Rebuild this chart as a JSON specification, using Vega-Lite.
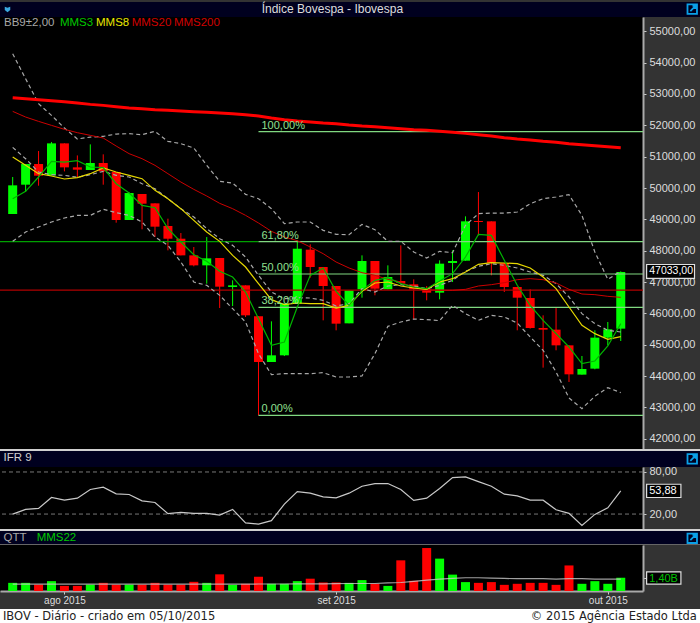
{
  "$schema": "https://vega.github.io/schema/vega-lite/v6.json",
  "background": "#333333",
  "padding": 0,
  "spacing": 0,
  "bounds": "flush",
  "datasets": {
    "sessions": [
      {"i":0,"open":49171,"high":50351,"low":49171,"close":50085,"bbUp":54284,"bbMid":51297,"bbLow":48299,"mms3":49660,"mms8":50989,"mms20":52445,"mms200":52881,"ifr":20.0,"vol":0.86,"mms22":0.72},
      {"i":1,"open":50106,"high":50765,"low":49872,"close":50765,"bbUp":53487,"bbMid":50935,"bbLow":48597,"mms3":49894,"mms8":50723,"mms20":52264,"mms200":52849,"ifr":26.6,"vol":0.86,"mms22":0.72},
      {"i":2,"open":50765,"high":51180,"low":50074,"close":50393,"bbUp":52689,"bbMid":50510,"bbLow":48756,"mms3":50351,"mms8":50457,"mms20":52126,"mms200":52817,"ifr":28.0,"vol":0.68,"mms22":0.72},
      {"i":3,"open":50404,"high":51467,"low":50404,"close":51424,"bbUp":52317,"bbMid":50425,"bbLow":48916,"mms3":50850,"mms8":50383,"mms20":51998,"mms200":52785,"ifr":43.6,"vol":1.04,"mms22":0.72},
      {"i":4,"open":51424,"high":51424,"low":50531,"close":50659,"bbUp":51913,"bbMid":50404,"bbLow":49043,"mms3":50829,"mms8":50287,"mms20":51871,"mms200":52753,"ifr":39.8,"vol":0.54,"mms22":0.72},
      {"i":5,"open":50659,"high":51040,"low":50351,"close":50585,"bbUp":51563,"bbMid":50340,"bbLow":49128,"mms3":50872,"mms8":50330,"mms20":51765,"mms200":52711,"ifr":42.7,"vol":0.54,"mms22":0.72},
      {"i":6,"open":50574,"high":51392,"low":50574,"close":50797,"bbUp":51626,"bbMid":50425,"bbLow":49128,"mms3":50670,"mms8":50457,"mms20":51680,"mms200":52668,"ifr":55.0,"vol":0.68,"mms22":0.72},
      {"i":7,"open":50797,"high":51074,"low":50106,"close":50531,"bbUp":51648,"bbMid":50531,"bbLow":49320,"mms3":50648,"mms8":50638,"mms20":51595,"mms200":52636,"ifr":58.3,"vol":0.86,"mms22":0.72},
      {"i":8,"open":50510,"high":50510,"low":48894,"close":48980,"bbUp":51722,"bbMid":50404,"bbLow":49213,"mms3":50138,"mms8":50510,"mms20":51339,"mms200":52594,"ifr":48.8,"vol":0.68,"mms22":0.72},
      {"i":9,"open":48980,"high":49860,"low":48980,"close":49840,"bbUp":51733,"bbMid":50351,"bbLow":49128,"mms3":49840,"mms8":50404,"mms20":51095,"mms200":52551,"ifr":47.9,"vol":0.68,"mms22":0.72},
      {"i":10,"open":49809,"high":49809,"low":48682,"close":49500,"bbUp":51701,"bbMid":50138,"bbLow":48916,"mms3":49447,"mms8":50298,"mms20":50935,"mms200":52530,"ifr":38.9,"vol":0.68,"mms22":0.72},
      {"i":11,"open":49511,"high":49511,"low":48437,"close":48767,"bbUp":51807,"bbMid":49979,"bbLow":48437,"mms3":49372,"mms8":49926,"mms20":50723,"mms200":52498,"ifr":36.5,"vol":0.86,"mms22":0.72},
      {"i":12,"open":48788,"high":49022,"low":48011,"close":48383,"bbUp":51488,"bbMid":49660,"bbLow":48171,"mms3":48703,"mms8":49660,"mms20":50457,"mms200":52477,"ifr":20.5,"vol":0.68,"mms22":0.72},
      {"i":13,"open":48383,"high":48564,"low":47852,"close":47852,"bbUp":51414,"bbMid":49341,"bbLow":47639,"mms3":48277,"mms8":49341,"mms20":50191,"mms200":52456,"ifr":22.4,"vol":0.68,"mms22":0.72},
      {"i":14,"open":47852,"high":48118,"low":47501,"close":47533,"bbUp":51276,"bbMid":49075,"bbLow":47001,"mms3":47873,"mms8":48969,"mms20":49957,"mms200":52434,"ifr":21.0,"vol":0.97,"mms22":0.72},
      {"i":15,"open":47533,"high":48436,"low":46948,"close":47756,"bbUp":50723,"bbMid":48703,"bbLow":46895,"mms3":47661,"mms8":48596,"mms20":49745,"mms200":52413,"ifr":21.0,"vol":0.86,"mms22":0.72},
      {"i":16,"open":47767,"high":47767,"low":46172,"close":46853,"bbUp":50213,"bbMid":48384,"bbLow":46576,"mms3":47342,"mms8":48298,"mms20":49511,"mms200":52392,"ifr":18.6,"vol":1.76,"mms22":0.72},
      {"i":17,"open":46842,"high":47055,"low":46236,"close":46895,"bbUp":50159,"bbMid":48171,"bbLow":46151,"mms3":47161,"mms8":47852,"mms20":49341,"mms200":52370,"ifr":26.6,"vol":0.65,"mms22":0.72},
      {"i":18,"open":46895,"high":46895,"low":45885,"close":45939,"bbUp":49798,"bbMid":47799,"bbLow":45726,"mms3":46683,"mms8":47480,"mms20":49128,"mms200":52339,"ifr":7.3,"vol":0.76,"mms22":0.72},
      {"i":19,"open":45907,"high":45907,"low":42750,"close":44450,"bbUp":49660,"bbMid":47214,"bbLow":44716,"mms3":45832,"mms8":46948,"mms20":48884,"mms200":52296,"ifr":5.8,"vol":1.51,"mms22":0.74},
      {"i":20,"open":44450,"high":45747,"low":44450,"close":44663,"bbUp":49341,"bbMid":46683,"bbLow":44046,"mms3":44982,"mms8":46438,"mms20":48618,"mms200":52232,"ifr":10.6,"vol":0.76,"mms22":0.74},
      {"i":21,"open":44663,"high":46310,"low":44640,"close":46310,"bbUp":48863,"bbMid":46470,"bbLow":44078,"mms3":45088,"mms8":46279,"mms20":48437,"mms200":52179,"ifr":34.2,"vol":0.76,"mms22":0.74},
      {"i":22,"open":46310,"high":48330,"low":46310,"close":48064,"bbUp":48916,"bbMid":46502,"bbLow":44078,"mms3":46204,"mms8":46332,"mms20":48320,"mms200":52137,"ifr":52.1,"vol":1.04,"mms22":0.76},
      {"i":23,"open":48033,"high":48203,"low":47140,"close":47480,"bbUp":48916,"bbMid":46491,"bbLow":44078,"mms3":47214,"mms8":46310,"mms20":48118,"mms200":52105,"ifr":49.8,"vol":1.30,"mms22":0.76},
      {"i":24,"open":47480,"high":47480,"low":45779,"close":46874,"bbUp":48650,"bbMid":46417,"bbLow":44110,"mms3":47448,"mms8":46310,"mms20":47905,"mms200":52073,"ifr":44.6,"vol":0.90,"mms22":0.76},
      {"i":25,"open":46874,"high":46874,"low":45460,"close":45673,"bbUp":48522,"bbMid":46236,"bbLow":43972,"mms3":46704,"mms8":46172,"mms20":47639,"mms200":52052,"ifr":43.2,"vol":0.90,"mms22":0.77},
      {"i":26,"open":45684,"high":46736,"low":45684,"close":46736,"bbUp":48511,"bbMid":46310,"bbLow":43972,"mms3":46258,"mms8":46258,"mms20":47449,"mms200":52009,"ifr":49.8,"vol":0.86,"mms22":0.79},
      {"i":27,"open":46768,"high":47852,"low":46502,"close":47672,"bbUp":48841,"bbMid":46789,"bbLow":44004,"mms3":46736,"mms8":46704,"mms20":47300,"mms200":51977,"ifr":59.7,"vol":1.15,"mms22":0.79},
      {"i":28,"open":47672,"high":47672,"low":46577,"close":46789,"bbUp":48671,"bbMid":46683,"bbLow":44716,"mms3":47055,"mms8":46970,"mms20":47215,"mms200":51956,"ifr":63.5,"vol":0.76,"mms22":0.79},
      {"i":29,"open":46768,"high":47533,"low":46768,"close":47161,"bbUp":48299,"bbMid":46874,"bbLow":45588,"mms3":47140,"mms8":47002,"mms20":47087,"mms200":51924,"ifr":63.5,"vol":0.54,"mms22":0.86},
      {"i":30,"open":47034,"high":48171,"low":46970,"close":46970,"bbUp":48299,"bbMid":46917,"bbLow":45726,"mms3":46949,"mms8":46874,"mms20":47002,"mms200":51892,"ifr":55.0,"vol":3.24,"mms22":0.90},
      {"i":31,"open":46928,"high":47087,"low":45811,"close":46768,"bbUp":47959,"bbMid":46874,"bbLow":45822,"mms3":46842,"mms8":46811,"mms20":46811,"mms200":51860,"ifr":39.4,"vol":1.08,"mms22":1.01},
      {"i":32,"open":46768,"high":46874,"low":46417,"close":46662,"bbUp":47767,"bbMid":46789,"bbLow":45801,"mms3":46789,"mms8":46768,"mms20":46757,"mms200":51839,"ifr":42.7,"vol":4.54,"mms22":1.15},
      {"i":33,"open":46662,"high":47693,"low":46449,"close":47587,"bbUp":47980,"bbMid":46896,"bbLow":45769,"mms3":47034,"mms8":47002,"mms20":46736,"mms200":51807,"ifr":56.4,"vol":3.42,"mms22":1.26},
      {"i":34,"open":47608,"high":48012,"low":47002,"close":47672,"bbUp":47937,"bbMid":47055,"bbLow":46258,"mms3":47268,"mms8":47108,"mms20":46736,"mms200":51775,"ifr":72.0,"vol":1.73,"mms22":1.33},
      {"i":35,"open":47682,"high":49096,"low":47682,"close":48937,"bbUp":48809,"bbMid":47342,"bbLow":45992,"mms3":47799,"mms8":47321,"mms20":46768,"mms200":51743,"ifr":72.9,"vol":0.94,"mms22":1.40},
      {"i":36,"open":48947,"high":49872,"low":48490,"close":48915,"bbUp":49181,"bbMid":47502,"bbLow":45780,"mms3":48522,"mms8":47565,"mms20":46874,"mms200":51701,"ifr":66.3,"vol":0.86,"mms22":1.40},
      {"i":37,"open":48937,"high":48937,"low":47215,"close":47608,"bbUp":49202,"bbMid":47587,"bbLow":45939,"mms3":48490,"mms8":47618,"mms20":46917,"mms200":51658,"ifr":59.7,"vol":0.94,"mms22":1.37},
      {"i":38,"open":47608,"high":47608,"low":46683,"close":46842,"bbUp":49202,"bbMid":47533,"bbLow":45886,"mms3":47693,"mms8":47608,"mms20":46981,"mms200":51605,"ifr":48.4,"vol":0.65,"mms22":1.33},
      {"i":39,"open":46842,"high":46842,"low":45461,"close":46502,"bbUp":49234,"bbMid":47449,"bbLow":45694,"mms3":46896,"mms8":47587,"mms20":47076,"mms200":51563,"ifr":46.0,"vol":0.76,"mms22":1.30},
      {"i":40,"open":46492,"high":46768,"low":45514,"close":45535,"bbUp":49500,"bbMid":47321,"bbLow":45248,"mms3":46258,"mms8":47449,"mms20":47108,"mms200":51531,"ifr":39.8,"vol":0.86,"mms22":1.30},
      {"i":41,"open":45535,"high":45939,"low":44270,"close":45482,"bbUp":49659,"bbMid":47215,"bbLow":44823,"mms3":45779,"mms8":47161,"mms20":47076,"mms200":51488,"ifr":39.8,"vol":0.86,"mms22":1.30},
      {"i":42,"open":45482,"high":46173,"low":44823,"close":44982,"bbUp":49713,"bbMid":46949,"bbLow":44132,"mms3":45354,"mms8":46789,"mms20":46970,"mms200":51456,"ifr":26.1,"vol":0.65,"mms22":1.26},
      {"i":43,"open":44982,"high":44982,"low":43813,"close":44057,"bbUp":49787,"bbMid":46524,"bbLow":43303,"mms3":44929,"mms8":46205,"mms20":46768,"mms200":51414,"ifr":21.0,"vol":2.70,"mms22":1.30},
      {"i":44,"open":44047,"high":44642,"low":44047,"close":44227,"bbUp":49128,"bbMid":45992,"bbLow":42963,"mms3":44398,"mms8":45620,"mms20":46619,"mms200":51382,"ifr":3.9,"vol":0.76,"mms22":1.30},
      {"i":45,"open":44238,"high":45461,"low":44217,"close":45227,"bbUp":47959,"bbMid":45673,"bbLow":43356,"mms3":44483,"mms8":45354,"mms20":46598,"mms200":51350,"ifr":19.5,"vol":1.04,"mms22":1.26},
      {"i":46,"open":45227,"high":45726,"low":44982,"close":45493,"bbUp":47087,"bbMid":45461,"bbLow":43632,"mms3":44961,"mms8":45174,"mms20":46545,"mms200":51318,"ifr":29.0,"vol":0.76,"mms22":1.26},
      {"i":47,"open":45514,"high":47342,"low":45120,"close":47321,"bbUp":47342,"bbMid":45407,"bbLow":43473,"mms3":45673,"mms8":45259,"mms20":46513,"mms200":51286,"ifr":53.1,"vol":1.40,"mms22":1.26}
    ],
    "fib": [
      {"level":51796,"from":19,"to":48.72,"label":"100,00%"},
      {"level":48288,"from":19,"to":48.72,"label":"61,80%"},
      {"level":47257,"from":19,"to":48.72,"label":"50,00%"},
      {"level":46194,"from":19,"to":48.72,"label":"38,20%"},
      {"level":42750,"from":19,"to":48.72,"label":"0,00%"}
    ],
    "mainLegend": [
      {"label":"BB9±2,00","at":-0.67,"name":"bb"},
      {"label":"MMS3","at":3.65,"name":"mms3"},
      {"label":"MMS8","at":6.44,"name":"mms8"},
      {"label":"MMS20","at":9.2,"name":"mms20"},
      {"label":"MMS200","at":12.46,"name":"mms200"}
    ]
  },
  "vconcat": [
    {
      "width": 700, "height": 15,
      "view": {"fill": "#00001f", "stroke": null},
      "layer": [
        {
          "data": {"values": [{"at": 24.7, "label": "Índice Bovespa - Ibovespa"}]},
          "mark": {"type": "text", "font": "Liberation Sans", "fontSize": 12, "color": "#dddddd"},
          "encoding": {
            "x": {"field": "at", "type": "quantitative", "axis": null, "scale": {"domain": [-0.98, 53.1], "nice": false, "zero": false}},
            "y": {"datum": 0.56, "type": "quantitative", "axis": null, "scale": {"domain": [0, 1]}},
            "text": {"field": "label"}
          }
        },
        {
          "data": {"values": [{"at": 52.5}]},
          "mark": {"type": "point", "shape": "M-1,-1H1V1H-1Z M-0.4,0.4L0.7,-0.7 M0.05,-0.7H0.7V-0.05", "size": 90, "filled": false, "stroke": "#0aa0e8", "strokeWidth": 1.8, "opacity": 1},
          "encoding": {
            "x": {"field": "at", "type": "quantitative", "axis": null},
            "y": {"datum": 0.52, "type": "quantitative", "axis": null}
          }
        },
        {
          "data": {"values": [{"at": -0.4}]},
          "mark": {"type": "point", "shape": "M-1,-1L0,-0.6L1,-1V0.2L0,1L-1,0.2Z", "size": 30, "filled": true, "fill": "#3aa8e0", "stroke": null, "opacity": 1},
          "encoding": {
            "x": {"field": "at", "type": "quantitative", "axis": null},
            "y": {"datum": 0.5, "type": "quantitative", "axis": null}
          }
        }
      ]
    },
    {
      "width": 643, "height": 432,
      "view": {"fill": "#000000", "stroke": null},
      "data": {"name": "sessions"},
      "resolve": {"axis": {"y": "independent"}},
      "layer": [
        {
          "mark": {"type": "rule", "strokeWidth": 1},
          "encoding": {
            "x": {"field": "i", "type": "quantitative", "axis": null, "scale": {"domain": [-0.98, 48.72], "nice": false, "zero": false, "padding": 0}},
            "y": {
              "field": "low", "type": "quantitative", "title": null,
              "scale": {"domain": [41675, 55455], "nice": false, "zero": false},
              "axis": {
                "orient": "right", "values": [42000,43000,44000,45000,46000,47000,48000,49000,50000,51000,52000,53000,54000,55000],
                "labelExpr": "format(datum.value, 'd') + ',00'"
              }
            },
            "y2": {"field": "high"},
            "color": {"condition": {"test": "datum.close >= datum.open", "value": "#00ff00"}, "value": "#ff0000"}
          }
        },
        {
          "mark": {"type": "bar", "size": 9, "orient": "vertical"},
          "encoding": {
            "x": {"field": "i", "type": "quantitative", "axis": null},
            "y": {"field": "open", "type": "quantitative", "axis": null},
            "y2": {"field": "close"},
            "color": {"condition": {"test": "datum.close >= datum.open", "value": "#00ff00"}, "value": "#ff0000"}
          }
        },
        {
          "data": {"values": [{"level": 48288, "from": -0.98, "to": 19}]},
          "mark": {"type": "rule", "color": "#00a000", "strokeWidth": 1.2, "clip": true},
          "encoding": {
            "x": {"field": "from", "type": "quantitative", "axis": null},
            "x2": {"field": "to"},
            "y": {"field": "level", "type": "quantitative", "axis": null}
          }
        },
        {
          "data": {"values": [{"level": 46746, "from": -0.98, "to": 48.72}]},
          "mark": {"type": "rule", "color": "#b00000", "strokeWidth": 1.2, "clip": true},
          "encoding": {
            "x": {"field": "from", "type": "quantitative", "axis": null},
            "x2": {"field": "to"},
            "y": {"field": "level", "type": "quantitative", "axis": null}
          }
        },
        {
          "data": {"name": "fib"},
          "mark": {"type": "rule", "color": "#80d880", "strokeWidth": 1.2, "clip": true},
          "encoding": {
            "x": {"field": "from", "type": "quantitative", "axis": null},
            "x2": {"field": "to"},
            "y": {"field": "level", "type": "quantitative", "axis": null}
          }
        },
        {
          "mark": {"type": "line", "color": "#a8a8a8", "strokeWidth": 1.2, "strokeDash": [4, 3]},
          "encoding": {
            "x": {"field": "i", "type": "quantitative", "axis": null},
            "y": {"field": "bbUp", "type": "quantitative", "axis": null}
          }
        },
        {
          "mark": {"type": "line", "color": "#a8a8a8", "strokeWidth": 1.2, "strokeDash": [4, 3]},
          "encoding": {
            "x": {"field": "i", "type": "quantitative", "axis": null},
            "y": {"field": "bbMid", "type": "quantitative", "axis": null}
          }
        },
        {
          "mark": {"type": "line", "color": "#a8a8a8", "strokeWidth": 1.2, "strokeDash": [4, 3]},
          "encoding": {
            "x": {"field": "i", "type": "quantitative", "axis": null},
            "y": {"field": "bbLow", "type": "quantitative", "axis": null}
          }
        },
        {
          "mark": {"type": "line", "color": "#cc0000", "strokeWidth": 1},
          "encoding": {
            "x": {"field": "i", "type": "quantitative", "axis": null},
            "y": {"field": "mms20", "type": "quantitative", "axis": null}
          }
        },
        {
          "mark": {"type": "line", "color": "#ff0000", "strokeWidth": 3},
          "encoding": {
            "x": {"field": "i", "type": "quantitative", "axis": null},
            "y": {"field": "mms200", "type": "quantitative", "axis": null}
          }
        },
        {
          "mark": {"type": "line", "color": "#e6d800", "strokeWidth": 1.2},
          "encoding": {
            "x": {"field": "i", "type": "quantitative", "axis": null},
            "y": {"field": "mms8", "type": "quantitative", "axis": null}
          }
        },
        {
          "mark": {"type": "line", "color": "#00b400", "strokeWidth": 1.2},
          "encoding": {
            "x": {"field": "i", "type": "quantitative", "axis": null},
            "y": {"field": "mms3", "type": "quantitative", "axis": null}
          }
        },
        {
          "data": {"name": "fib"},
          "mark": {"type": "text", "font": "Liberation Sans", "fontSize": 11, "align": "left", "baseline": "bottom", "dx": 3, "dy": -1, "color": "#90e090"},
          "encoding": {
            "x": {"field": "from", "type": "quantitative", "axis": null},
            "y": {"field": "level", "type": "quantitative", "axis": null},
            "text": {"field": "label"}
          }
        },
        {
          "data": {"name": "mainLegend"},
          "mark": {"type": "text", "font": "Liberation Sans", "fontSize": 11.5, "align": "left"},
          "encoding": {
            "x": {"field": "at", "type": "quantitative", "axis": null},
            "y": {"datum": 55260, "type": "quantitative", "axis": null},
            "text": {"field": "label"},
            "color": {
              "field": "name", "legend": null,
              "scale": {"domain": ["bb", "mms3", "mms8", "mms20", "mms200"], "range": ["#a8a8a8", "#00c800", "#e8e800", "#d00000", "#d00000"]}
            }
          }
        },
        {
          "data": {"values": [{"from": 49, "to": 52.7, "lo": 47120, "hi": 47560}]},
          "mark": {"type": "rect", "fill": "#000000", "stroke": "#e0e0e0", "strokeWidth": 1.2},
          "encoding": {
            "x": {"field": "from", "type": "quantitative", "axis": null},
            "x2": {"field": "to"},
            "y": {"field": "lo", "type": "quantitative", "axis": null},
            "y2": {"field": "hi"}
          }
        },
        {
          "data": {"values": [{"at": 49.2, "level": 47350, "label": "47033,00"}]},
          "mark": {"type": "text", "font": "Liberation Sans", "fontSize": 10.5, "align": "left", "color": "#ffffff"},
          "encoding": {
            "x": {"field": "at", "type": "quantitative", "axis": null},
            "y": {"field": "level", "type": "quantitative", "axis": null},
            "text": {"field": "label"}
          }
        }
      ]
    },
    {
      "width": 700, "height": 18,
      "view": {"fill": "#00001f", "stroke": null},
      "layer": [
        {
          "data": {"values": [{"at": -0.7, "label": "IFR 9"}]},
          "mark": {"type": "text", "font": "Liberation Sans", "fontSize": 11.5, "align": "left", "color": "#d0d0d0"},
          "encoding": {
            "x": {"field": "at", "type": "quantitative", "axis": null, "scale": {"domain": [-0.98, 53.1], "nice": false, "zero": false}},
            "y": {"datum": 0.5, "type": "quantitative", "axis": null, "scale": {"domain": [0, 1]}},
            "text": {"field": "label"}
          }
        },
        {
          "data": {"values": [{"at": 52.5}]},
          "mark": {"type": "point", "shape": "M-1,-1H1V1H-1Z M-0.4,0.4L0.7,-0.7 M0.05,-0.7H0.7V-0.05", "size": 90, "filled": false, "stroke": "#0aa0e8", "strokeWidth": 1.8, "opacity": 1},
          "encoding": {
            "x": {"field": "at", "type": "quantitative", "axis": null},
            "y": {"datum": 0.45, "type": "quantitative", "axis": null}
          }
        },
        {
          "data": {"values": [{"top": 1}]},
          "mark": {"type": "rule", "color": "#d0d0d0", "strokeWidth": 4, "clip": true},
          "encoding": {"y": {"field": "top", "type": "quantitative", "axis": null}}
        }
      ]
    },
    {
      "width": 643, "height": 62,
      "view": {"fill": "#000000", "stroke": null},
      "data": {"name": "sessions"},
      "resolve": {"axis": {"y": "independent"}},
      "layer": [
        {
          "data": {"values": [{"level": 80}, {"level": 20}]},
          "mark": {"type": "rule", "color": "#777777", "strokeWidth": 1, "strokeDash": [4, 3], "clip": true},
          "encoding": {
            "y": {
              "field": "level", "type": "quantitative", "title": null,
              "scale": {"domain": [-1.3, 87.1], "nice": false, "zero": false},
              "axis": {"orient": "right", "values": [20, 80], "labelExpr": "format(datum.value, 'd') + ',00'"}
            }
          }
        },
        {
          "mark": {"type": "line", "color": "#c8c8c8", "strokeWidth": 1.2},
          "encoding": {
            "x": {"field": "i", "type": "quantitative", "axis": null, "scale": {"domain": [-0.98, 48.72], "nice": false, "zero": false}},
            "y": {"field": "ifr", "type": "quantitative", "axis": null}
          }
        },
        {
          "data": {"values": [{"from": 49, "to": 51.65, "lo": 43.6, "hi": 62.5}]},
          "mark": {"type": "rect", "fill": "#000000", "stroke": "#e0e0e0", "strokeWidth": 1.2},
          "encoding": {
            "x": {"field": "from", "type": "quantitative", "axis": null},
            "x2": {"field": "to"},
            "y": {"field": "lo", "type": "quantitative", "axis": null},
            "y2": {"field": "hi"}
          }
        },
        {
          "data": {"values": [{"at": 49.2, "level": 53.3, "label": "53,88"}]},
          "mark": {"type": "text", "font": "Liberation Sans", "fontSize": 11, "align": "left", "color": "#ffffff"},
          "encoding": {
            "x": {"field": "at", "type": "quantitative", "axis": null},
            "y": {"field": "level", "type": "quantitative", "axis": null},
            "text": {"field": "label"}
          }
        }
      ]
    },
    {
      "width": 700, "height": 16,
      "view": {"fill": "#00001f", "stroke": null},
      "layer": [
        {
          "data": {"values": [{"at": -0.7, "label": "QTT", "name": "qtt"}, {"at": 1.85, "label": "MMS22", "name": "mms22"}]},
          "mark": {"type": "text", "font": "Liberation Sans", "fontSize": 11.5, "align": "left"},
          "encoding": {
            "x": {"field": "at", "type": "quantitative", "axis": null, "scale": {"domain": [-0.98, 53.1], "nice": false, "zero": false}},
            "y": {"datum": 0.45, "type": "quantitative", "axis": null, "scale": {"domain": [0, 1]}},
            "text": {"field": "label"},
            "color": {"field": "name", "legend": null, "scale": {"domain": ["qtt", "mms22"], "range": ["#00c000", "#d0d0d0"]}}
          }
        },
        {
          "data": {"values": [{"at": 52.5}]},
          "mark": {"type": "point", "shape": "M-1,-1H1V1H-1Z M-0.4,0.4L0.7,-0.7 M0.05,-0.7H0.7V-0.05", "size": 90, "filled": false, "stroke": "#0aa0e8", "strokeWidth": 1.8, "opacity": 1},
          "encoding": {
            "x": {"field": "at", "type": "quantitative", "axis": null},
            "y": {"datum": 0.42, "type": "quantitative", "axis": null}
          }
        },
        {
          "data": {"values": [{"top": 1, "bottom": 0}]},
          "mark": {"type": "rule", "color": "#d0d0d0", "strokeWidth": 4, "clip": true},
          "encoding": {"y": {"field": "top", "type": "quantitative", "axis": null}}
        },
        {
          "data": {"values": [{"top": 1, "bottom": 0}]},
          "mark": {"type": "rule", "color": "#666666", "strokeWidth": 2, "clip": true},
          "encoding": {"y": {"field": "bottom", "type": "quantitative", "axis": null}}
        }
      ]
    },
    {
      "width": 643, "height": 46,
      "view": {"fill": "#000000", "stroke": null},
      "data": {"name": "sessions"},
      "resolve": {"axis": {"x": "independent", "y": "independent"}},
      "layer": [
        {
          "mark": {"type": "bar", "size": 9, "orient": "vertical"},
          "encoding": {
            "x": {
              "field": "i", "type": "quantitative", "title": null,
              "scale": {"domain": [-0.98, 48.72], "nice": false, "zero": false, "padding": 0},
              "axis": {
                "values": [4, 25, 46],
                "labelExpr": "datum.value == 4 ? 'ago 2015' : datum.value == 25 ? 'set 2015' : 'out 2015'",
                "labelFontSize": 10, "labelPadding": 1
              }
            },
            "y": {
              "field": "vol", "type": "quantitative", "title": null,
              "scale": {"domain": [0, 4.86], "nice": false},
              "axis": {"orient": "right", "values": [1.4], "labels": false}
            },
            "color": {"condition": {"test": "datum.close >= datum.open", "value": "#00ff00"}, "value": "#ff0000"}
          }
        },
        {
          "mark": {"type": "line", "color": "#c8c8c8", "strokeWidth": 1.2, "opacity": 0.8},
          "encoding": {
            "x": {"field": "i", "type": "quantitative", "axis": null},
            "y": {"field": "mms22", "type": "quantitative", "axis": null}
          }
        },
        {
          "data": {"values": [{"from": 49, "to": 51.65, "lo": 0.72, "hi": 2.02}]},
          "mark": {"type": "rect", "fill": "#000000", "stroke": "#e0e0e0", "strokeWidth": 1.2},
          "encoding": {
            "x": {"field": "from", "type": "quantitative", "axis": null},
            "x2": {"field": "to"},
            "y": {"field": "lo", "type": "quantitative", "axis": null},
            "y2": {"field": "hi"}
          }
        },
        {
          "data": {"values": [{"at": 49.2, "level": 1.3, "label": "1,40B"}]},
          "mark": {"type": "text", "font": "Liberation Sans", "fontSize": 11, "align": "left", "color": "#00c000"},
          "encoding": {
            "x": {"field": "at", "type": "quantitative", "axis": null},
            "y": {"field": "level", "type": "quantitative", "axis": null},
            "text": {"field": "label"}
          }
        }
      ]
    },
    {
      "width": 700, "height": 18,
      "data": {"values": []},
      "mark": "point"
    },
    {
      "width": 700, "height": 16,
      "view": {"fill": "#ffffff", "stroke": null},
      "data": {"values": [
        {"at": -0.75, "label": "IBOV - Diário - criado em 05/10/2015", "side": "left"},
        {"at": 52.85, "label": "© 2015 Agência Estado Ltda", "side": "right"}
      ]},
      "layer": [
        {
          "transform": [{"filter": "datum.side == 'left'"}],
          "mark": {"type": "text", "font": "DejaVu Sans", "fontSize": 11.5, "align": "left", "color": "#222222"},
          "encoding": {
            "x": {"field": "at", "type": "quantitative", "axis": null, "scale": {"domain": [-0.98, 53.1], "nice": false, "zero": false}},
            "y": {"datum": 0.52, "type": "quantitative", "axis": null, "scale": {"domain": [0, 1]}},
            "text": {"field": "label"}
          }
        },
        {
          "transform": [{"filter": "datum.side == 'right'"}],
          "mark": {"type": "text", "font": "DejaVu Sans", "fontSize": 11.5, "align": "right", "color": "#222222"},
          "encoding": {
            "x": {"field": "at", "type": "quantitative", "axis": null},
            "y": {"datum": 0.52, "type": "quantitative", "axis": null},
            "text": {"field": "label"}
          }
        }
      ]
    }
  ],
  "config": {
    "view": {"stroke": null},
    "font": "Liberation Sans",
    "axis": {
      "grid": false,
      "labelColor": "#dddddd",
      "labelFont": "Liberation Sans",
      "labelFontSize": 11,
      "labelPadding": 3,
      "labelBound": false,
      "labelOverlap": false,
      "tickColor": "#cccccc",
      "tickSize": 3,
      "domainColor": "#aaaaaa",
      "domainWidth": 2
    }
  }
}
